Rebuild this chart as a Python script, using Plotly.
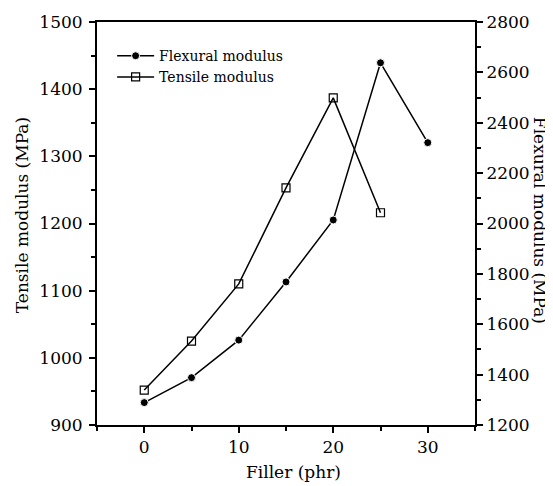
import plotly.graph_objects as go

filler = [0, 5, 10, 15, 20, 25, 30]
flexural = [1289, 1388, 1537, 1768, 2014, 2638, 2321]
filler_t = [0, 5, 10, 15, 20, 25]
tensile = [952, 1025, 1110, 1253, 1387, 1216]

FONT = "DejaVu Serif"

fig = go.Figure()
fig.add_trace(go.Scatter(
    x=filler, y=flexural, name="Flexural modulus", yaxis="y2",
    mode="lines+markers",
    line=dict(color="black", width=1.5),
    marker=dict(symbol="circle", size=8, color="black",
                line=dict(color="white", width=1)),
))
fig.add_trace(go.Scatter(
    x=filler_t, y=tensile, name="Tensile modulus", yaxis="y",
    mode="lines+markers",
    line=dict(color="black", width=1.5),
    marker=dict(symbol="square-open", size=8, color="black",
                line=dict(color="black", width=1.2)),
))

axis_common = dict(
    showline=True, linecolor="black", linewidth=2,
    ticks="outside", tickcolor="black", tickwidth=1.5, ticklen=6,
    showgrid=False, zeroline=False, automargin=False,
    tickfont=dict(family=FONT, size=17, color="black"),
)

title_font = dict(family=FONT, size=17, color="black")

# page body has an 8px margin, so the figure is shrunk and offset accordingly
fig.update_layout(
    width=545, height=478,
    margin=dict(l=89, r=78, t=14, b=61),
    paper_bgcolor="white", plot_bgcolor="white",
    font=dict(family=FONT, color="black"),
    showlegend=True,
    legend=dict(x=0.04, y=0.955, xanchor="left", yanchor="top",
                bgcolor="rgba(0,0,0,0)", font=dict(family=FONT, size=14),
                tracegroupgap=0, itemwidth=37),
    xaxis=dict(
        range=[-5, 35], dtick=10, tick0=0, mirror=True,
        minor=dict(dtick=5, tick0=0, ticks="outside", ticklen=4, tickcolor="black", tickwidth=1.5),
        **axis_common,
    ),
    yaxis=dict(
        range=[900, 1500], dtick=100, tick0=900, ticklabelstandoff=3,
        minor=dict(dtick=50, tick0=900, ticks="outside", ticklen=4, tickcolor="black", tickwidth=1.5),
        **axis_common,
    ),
    yaxis2=dict(
        range=[1200, 2800], dtick=200, tick0=1200, overlaying="y", side="right",
        minor=dict(dtick=100, tick0=1200, ticks="outside", ticklen=4, tickcolor="black", tickwidth=1.5),
        **axis_common,
    ),
    annotations=[
        dict(text="Flexural modulus (MPa)", textangle=90,
             xref="paper", yref="paper", x=1.172, y=0.509,
             xanchor="center", yanchor="middle", showarrow=False, font=title_font),
        dict(text="Tensile modulus (MPa)", textangle=-90,
             xref="paper", yref="paper", x=-0.198, y=0.521,
             xanchor="center", yanchor="middle", showarrow=False, font=title_font),
        dict(text="Filler (phr)",
             xref="paper", yref="paper", x=0.519, y=-0.117,
             xanchor="center", yanchor="middle", showarrow=False, font=title_font),
    ],
)

fig.write_html("out.html")
